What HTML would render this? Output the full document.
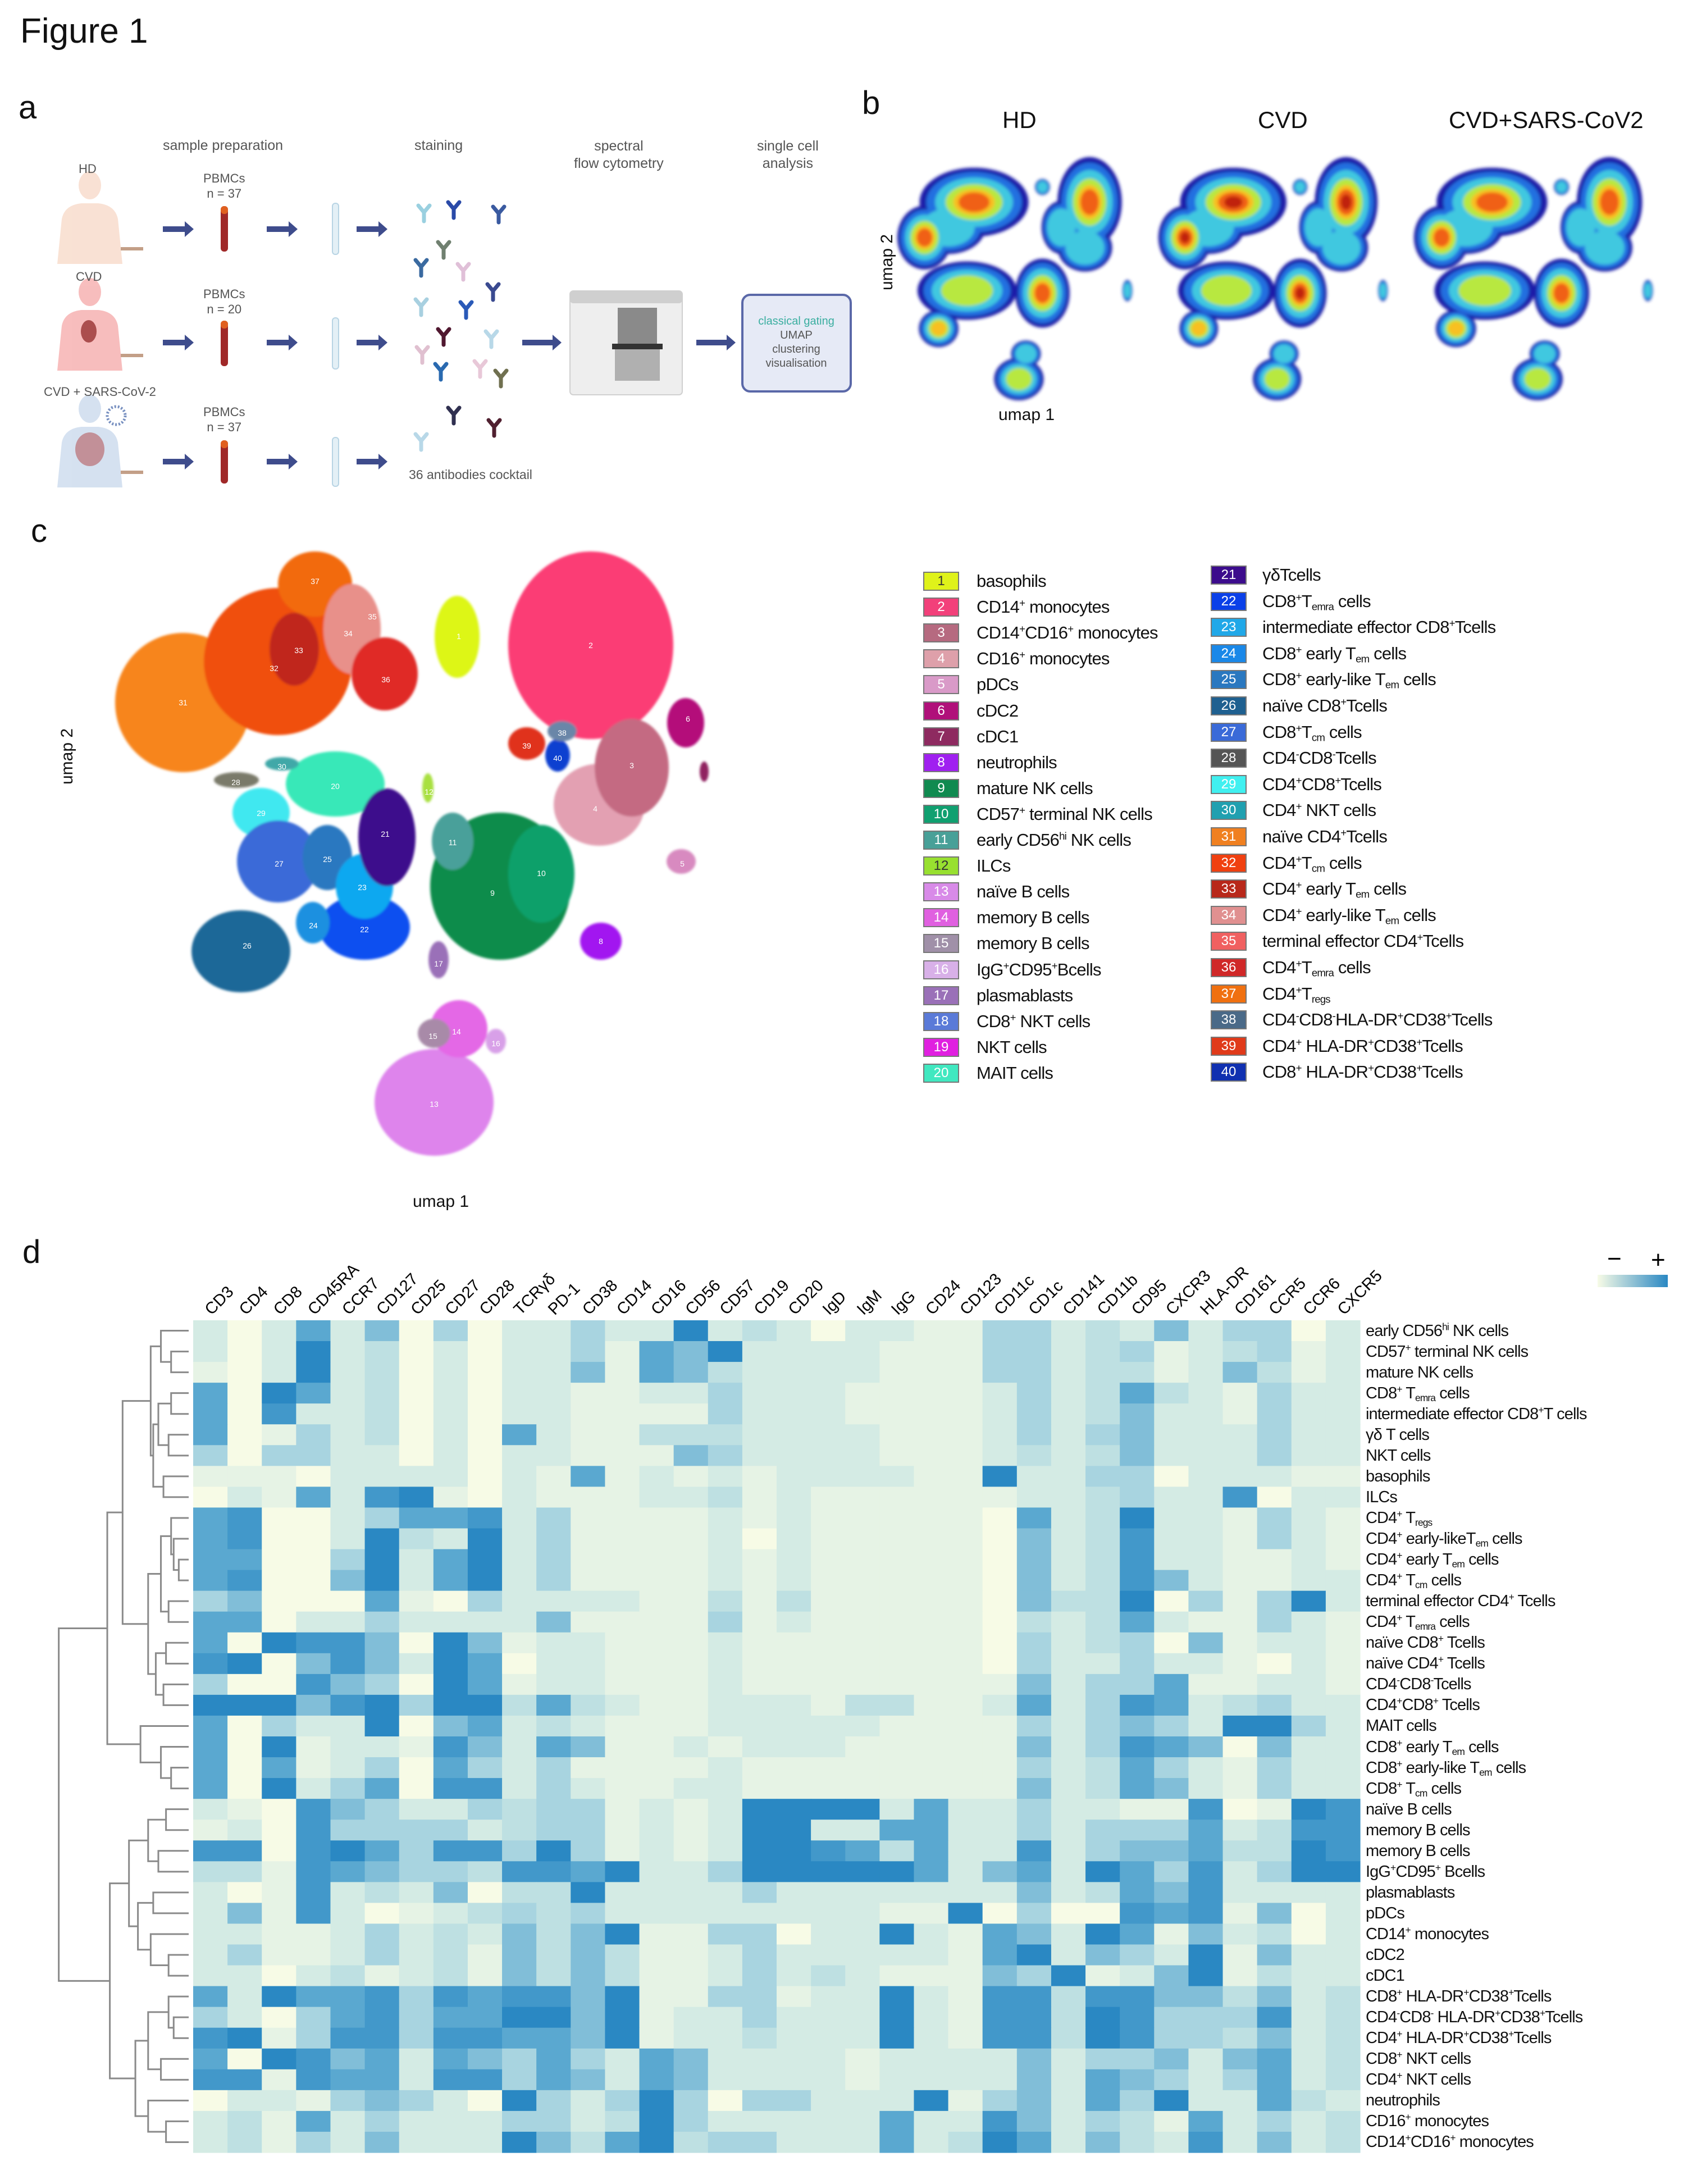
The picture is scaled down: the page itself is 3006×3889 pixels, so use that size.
<!DOCTYPE html>
<html><head><meta charset="utf-8">
<style>
html,body{margin:0;padding:0;background:#fff;}
#root{position:relative;width:3006px;height:3889px;overflow:hidden;font-family:"Liberation Sans",sans-serif;color:#111;}
.t{position:absolute;white-space:nowrap;z-index:2;}
.lg{position:absolute;font-size:31px;letter-spacing:-0.8px;white-space:nowrap;line-height:36px;z-index:2;}
.sw{position:absolute;width:64px;height:34px;box-sizing:border-box;border:2px solid #777;color:#fff;font-size:24px;text-align:center;line-height:30px;z-index:2;}
.rl{position:absolute;left:2432px;font-size:29px;letter-spacing:-0.9px;white-space:nowrap;line-height:34px;z-index:2;}
sup,sub{font-size:60%;line-height:0;}
sub{vertical-align:-0.3em;} sup{vertical-align:0.6em;}
.pa{position:absolute;font-size:25px;color:#555;text-align:center;white-space:nowrap;z-index:2;}
</style></head>
<body>
<div id="root">
<div class="t" style="left:36px;top:20px;font-size:62px;">Figure 1</div>
<div class="t" style="left:33px;top:158px;font-size:58px;">a</div>
<div class="t" style="left:1535px;top:150px;font-size:58px;">b</div>
<div class="t" style="left:55px;top:912px;font-size:58px;">c</div>
<div class="t" style="left:40px;top:2196px;font-size:58px;">d</div>

<div class="pa" style="left:290px;top:245px;">sample preparation</div>
<div class="pa" style="left:738px;top:245px;">staining</div>
<div class="pa" style="left:1022px;top:245px;line-height:31px;">spectral<br>flow cytometry</div>
<div class="pa" style="left:1348px;top:245px;line-height:31px;">single cell<br>analysis</div>
<div class="pa" style="left:140px;top:288px;font-size:22px;">HD</div>
<div class="pa" style="left:135px;top:480px;font-size:22px;">CVD</div>
<div class="pa" style="left:78px;top:685px;font-size:22px;">CVD + SARS-CoV-2</div>
<div class="pa" style="left:362px;top:304px;font-size:22px;line-height:27px;">PBMCs<br>n = 37</div>
<div class="pa" style="left:362px;top:510px;font-size:22px;line-height:27px;">PBMCs<br>n = 20</div>
<div class="pa" style="left:362px;top:720px;font-size:22px;line-height:27px;">PBMCs<br>n = 37</div>
<div class="pa" style="left:728px;top:832px;font-size:23px;">36 antibodies cocktail</div>
<div class="pa" style="left:1333px;top:560px;font-size:20px;line-height:25px;width:170px;"><span style="color:#3aaea0">classical gating</span><br>UMAP<br>clustering<br>visualisation</div>

<div class="t" style="left:1785px;top:190px;font-size:42px;">HD</div>
<div class="t" style="left:2240px;top:190px;font-size:42px;">CVD</div>
<div class="t" style="left:2580px;top:190px;font-size:42px;">CVD+SARS-CoV2</div>
<div class="t" style="left:1778px;top:722px;font-size:30px;">umap 1</div>
<div class="t" style="left:1530px;top:450px;font-size:30px;transform:rotate(-90deg);">umap 2</div>
<div class="t" style="left:735px;top:2123px;font-size:30px;">umap 1</div>
<div class="t" style="left:70px;top:1330px;font-size:30px;transform:rotate(-90deg);">umap 2</div>

<svg id="svg" width="3006" height="3889" style="position:absolute;left:0;top:0;z-index:1;">
<defs>
<filter id="bl" x="-30%" y="-30%" width="160%" height="160%"><feGaussianBlur stdDeviation="2"/></filter>
<filter id="bl2" x="-30%" y="-30%" width="160%" height="160%"><feGaussianBlur stdDeviation="3"/></filter>
<linearGradient id="cbar" x1="0" x2="1"><stop offset="0" stop-color="#f7fbe6"/><stop offset="1" stop-color="#2a88c3"/></linearGradient>
</defs>
<g id="panelA"></g>
<g id="panelB"></g>
<g id="panelC"></g>
<g id="dendro"></g>
<g id="heat"></g>
<g id="collabels"></g>
<g>
<text x="2862" y="2256" font-size="44" font-family="Liberation Sans">−</text>
<text x="2940" y="2258" font-size="44" font-family="Liberation Sans">+</text>
<rect x="2845" y="2270" width="125" height="22" fill="url(#cbar)"/>
</g>
</svg>
<div id="legend"></div>
<div id="rowlabels"></div>
</div>

<script>
const markers = ["CD3","CD4","CD8","CD45RA","CCR7","CD127","CD25","CD27","CD28","TCRγδ","PD-1","CD38","CD14","CD16","CD56","CD57","CD19","CD20","IgD","IgM","IgG","CD24","CD123","CD11c","CD1c","CD141","CD11b","CD95","CXCR3","HLA-DR","CD161","CCR5","CCR6","CXCR5"];
const cellTypes = ["early CD56<sup>hi</sup> NK cells","CD57<sup>+</sup> terminal NK cells","mature NK cells","CD8<sup>+</sup> T<sub>emra</sub> cells","intermediate effector CD8<sup>+</sup>T cells","γδ T cells","NKT cells","basophils","ILCs","CD4<sup>+</sup> T<sub>regs</sub>","CD4<sup>+</sup> early-likeT<sub>em</sub> cells","CD4<sup>+</sup> early T<sub>em</sub> cells","CD4<sup>+</sup> T<sub>cm</sub> cells","terminal effector CD4<sup>+</sup> Tcells","CD4<sup>+</sup> T<sub>emra</sub> cells","naïve CD8<sup>+</sup> Tcells","naïve CD4<sup>+</sup> Tcells","CD4<sup>-</sup>CD8<sup>-</sup>Tcells","CD4<sup>+</sup>CD8<sup>+</sup> Tcells","MAIT cells","CD8<sup>+</sup> early T<sub>em</sub> cells","CD8<sup>+</sup> early-like T<sub>em</sub> cells","CD8<sup>+</sup> T<sub>cm</sub> cells","naïve B cells","memory B cells","memory B cells","IgG<sup>+</sup>CD95<sup>+</sup> Bcells","plasmablasts","pDCs","CD14<sup>+</sup> monocytes","cDC2","cDC1","CD8<sup>+</sup> HLA-DR<sup>+</sup>CD38<sup>+</sup>Tcells","CD4<sup>-</sup>CD8<sup>-</sup> HLA-DR<sup>+</sup>CD38<sup>+</sup>Tcells","CD4<sup>+</sup> HLA-DR<sup>+</sup>CD38<sup>+</sup>Tcells","CD8<sup>+</sup> NKT cells","CD4<sup>+</sup> NKT cells","neutrophils","CD16<sup>+</sup> monocytes","CD14<sup>+</sup>CD16<sup>+</sup> monocytes"];
const expr0 = [1,0,1,3,1,2.5,0,2,0,1,1,2,1,1,4,1,1.5,1,0,1,1,0.5,0.5,2,2,1,1.5,1,2.5,1,2,2,0,1];
const expr1 = [1,0,1,4,1,1.5,0,1,0,1,1,2,0.5,3,2.5,4,1,1,1,1,0.5,0.5,0.5,2,2,1,1.5,2,0.5,1,1.5,2,0.5,1];
const expr2 = [0.5,0,1,4,1,1.5,0,1,0,1,1,2.5,0.5,3,2.5,1.5,1,1,1,1,0.5,0.5,0.5,2,2,1,1.5,1.5,0.5,1,2.5,1.5,0.5,1];
const expr3 = [3,0,4,3,1,1.5,0,1,0,1,1,0.5,0.5,1,1,2,1,1,1,0.5,0.5,0.5,0.5,1,2,1,1.5,3,1.5,1,0.5,2,1,1];
const expr4 = [3,0,3.5,1,1,1.5,0,1,0,1,1,0.5,0.5,0.5,0.5,2,1,1,1,0.5,0.5,0.5,0.5,1,2,1,1.5,2.5,1,1,0.5,2,1,1];
const expr5 = [3,0,0.5,2,1,1.5,0,1,0,3,1,0.5,0.5,1.5,1.5,1.5,1,1,1,1,0.5,0.5,0.5,1,2,1,2,2.5,1,1,1,2,1,1];
const expr6 = [2,0,2,2,1,1,0,1,0,1,1,0.5,0.5,0.5,2.5,2,1,1,1,1,0.5,0.5,0.5,1,1.5,1,1.5,2.5,1,1,1,2,1,1];
const expr7 = [0.5,0.5,0.5,0,1,1,1,1,0,1,0.5,3,0.5,1,0.5,1,0.5,1,1,1,1,0.5,0.5,4,1,1,2,2,0,1,1,1,0.5,0.5];
const expr8 = [0,1,0.5,3,1,3.5,4,0.5,0,1,0.5,0.5,0.5,1,1,1.5,0.5,1,0.5,0.5,0.5,0.5,0.5,0.5,1,1,1.5,2,1,1,3.5,0,1,1];
const expr9 = [3,3.5,0,0,1,2,3,3,3.5,1,2,0.5,0.5,0.5,0.5,1,0.5,1,0.5,0.5,0.5,0.5,0.5,0,3,1,1.5,4,1,1,0.5,2,1,0.5];
const expr10 = [3,3.5,0,0,1,4,1.5,1,4,1,2,0.5,0.5,0.5,0.5,1,0,1,0.5,0.5,0.5,0.5,0.5,0,2.5,1,1.5,3.5,1,1,0.5,2,1,0.5];
const expr11 = [3,3,0,0,2,4,1,3,4,1,2,0.5,0.5,0.5,0.5,1,0.5,1,0.5,0.5,0.5,0.5,0.5,0,2.5,1,1.5,3.5,1,1,0.5,0.5,1,0.5];
const expr12 = [3,3.5,0,0,2.5,4,1,3,4,1,2,0.5,0.5,0.5,0.5,1,0.5,1,0.5,0.5,0.5,0.5,0.5,0,2.5,1,1.5,3.5,2.5,1,0.5,0.5,1,1];
const expr13 = [2,2.5,0,0,0,3,0.5,0,2,1,1,1,1,0.5,0.5,1.5,0.5,1.5,0.5,0.5,0.5,0.5,0.5,0,2.5,1.5,1.5,4,0,2,0.5,2,4,1];
const expr14 = [3,3,0,1,1,2,1,1,1,1,2.5,0.5,0.5,0.5,0.5,2,0.5,1,0.5,0.5,0.5,0.5,0.5,0,1.5,1,1.5,3,1,0.5,0.5,2,1,0.5];
const expr15 = [3,0,4,3.5,3.5,2.5,0,4,2.5,0.5,1,1,0.5,0.5,0.5,1,0.5,0.5,0.5,0.5,0.5,0.5,0.5,0,2,1,1.5,2,0,2.5,0.5,1,1,0.5];
const expr16 = [3.5,4,0,2.5,3.5,2.5,1,4,3,0,1,1,0.5,0.5,0.5,1,0.5,0.5,0.5,0.5,0.5,0.5,0.5,0,2,1,1,2,1,1,0.5,0,1,0.5];
const expr17 = [2,0,0,3.5,2.5,2,0,4,3,0.5,1,1,0.5,0.5,0.5,1,0.5,0.5,0.5,0.5,0.5,0.5,0.5,0.5,2.5,1,2,2,3,0.5,0.5,1,1,0.5];
const expr18 = [4,4,4,2.5,3.5,4,2,4,4,1.5,3,1.5,1,0.5,0.5,1,1,1,0.5,1.5,1.5,0.5,0.5,1,3,1,2,3.5,3,1,1.5,2,1,1];
const expr19 = [3,0,2,1,1,4,0,2.5,3,1,1.5,1,0.5,0.5,0.5,1,1,1,1,1,0.5,0.5,0.5,0.5,2,1,2,2.5,2,1,4,4,2,1];
const expr20 = [3,0,4,0.5,1,1,0.5,3.5,2.5,1,3,2.5,0.5,0.5,1,0.5,1,1,1,0.5,0.5,0.5,0.5,0.5,2.5,1,2,3.5,3,2.5,0,2.5,1,1];
const expr21 = [3,0,3,0.5,1,2,0,3,2,1,2,0.5,0.5,0.5,0.5,1,0.5,0.5,0.5,0.5,0.5,0.5,0.5,0.5,2,1,1.5,3,2,1,0.5,2,1,1];
const expr22 = [3,0,4,1,2,3,0,3.5,3.5,1,2,1,0.5,0.5,1,1,0.5,0.5,0.5,0.5,0.5,0.5,0.5,0.5,2.5,1,1.5,3,2.5,1,0.5,2,1,1];
const expr23 = [1,0.5,0,3.5,2.5,2,1,1,2,1.5,2,2,0.5,1,0.5,1,4,4,4,4,1,3,1,1,2,1,1,0.5,0.5,3.5,0,0.5,4,3.5];
const expr24 = [0.5,1,0,3.5,2,2,2,2,1,1.5,2,2,0.5,1,0.5,1,4,4,1,1,3,3,1,1,2,1,2,2,2,3,1,1.5,3.5,3.5];
const expr25 = [3.5,3.5,0,3.5,4,3,2,3.5,3.5,2,4,2,0.5,1,0.5,1,4,4,3.5,3,1.5,3,1,1,3.5,1,2,2.5,2.5,3,1.5,1.5,4,3.5];
const expr26 = [1.5,1.5,0.5,3.5,3,2.5,2,2,1.5,3.5,3.5,3,4,1,1,2,4,4,4,4,4,3,1,2.5,3,1,4,3,2,3.5,1,2,4,4];
const expr27 = [1,0,0.5,3.5,1,1.5,1,2.5,0,1.5,1.5,4,1,1,1,1,2,1,1,1,1,1,1,1,2.5,1,1.5,3,2.5,3.5,1,1,1,1];
const expr28 = [1,2.5,0.5,3.5,1,0,0.5,1,1.5,2,1.5,2,1,1,1,1,1,1,1,1,0.5,0.5,4,0,2,0,0,3.5,3,3.5,0.5,2.5,0,1];
const expr29 = [1,1,0.5,0.5,1,2,1,1.5,1,2.5,1.5,2.5,4,0.5,0.5,2,2,0,1,1,4,1,0.5,3,2.5,1,4,3,0.5,2.5,1,1.5,0,1];
const expr30 = [1,2,0.5,0.5,1,2,1,1.5,0.5,2.5,1.5,2.5,1.5,0.5,0.5,1,2,1,1,1,1,1,0.5,3,4,1,2.5,2,1,4,0.5,2.5,1,1];
const expr31 = [1,1,0,1,1.5,0.5,1,1.5,0.5,2.5,1.5,2.5,1.5,0.5,0.5,1,2,1,1.5,1,0.5,0.5,0.5,2.5,2,4,0.5,1,2.5,4,0.5,1.5,1,1];
const expr32 = [3,1,4,3,3,3.5,2,3.5,3,3.5,3.5,2.5,4,0.5,0.5,2,2,0.5,1,1,4,1,0.5,3.5,3.5,1.5,3.5,3.5,2.5,2.5,1.5,2.5,1,1.5];
const expr33 = [2,1,0,2,3,3.5,2,3,3,4,4,2.5,4,0.5,1,1,2,1,1,1,4,1,0.5,3.5,3.5,1.5,4,3.5,2,2,2,3.5,1,1.5];
const expr34 = [3.5,4,0.5,2,3.5,3.5,2,3.5,3.5,3,3,2.5,4,0.5,1,1,1.5,1,1,1,4,1,0.5,3.5,3.5,1.5,4,3.5,2,2,1.5,2.5,1,1.5];
const expr35 = [3,0,4,3.5,2.5,3,1,3,2.5,2,3,2,1,3,2.5,1,1,1,1,0.5,1,1,1,1,2.5,1,2,2,2.5,1,2.5,3,1,1.5];
const expr36 = [3.5,3.5,0.5,3.5,3,3,1,3.5,3.5,2,3,2.5,1,3,2.5,1,1,1,1,0.5,1,1,1,1,2.5,1,3,2.5,2,1,2,3,1,1.5];
const expr37 = [0,1,1,0.5,2,2.5,2,1,0,4,2,1,2,4,2,0,2,2,1,1,1,4,0.5,2,2.5,1,3,2,4,1,1,3,1.5,1];
const expr38 = [1,1.5,0.5,3,1,2,1,1,1,2,2,1,1.5,4,2,1,1,1,1,1,3,1,1,3.5,2.5,1,2,1.5,0.5,3,1,2,1,1.5];
const expr39 = [1,1.5,0.5,2,1,2.5,1,1,1,4,2.5,1.5,3,4,1.5,2,2,1,1,1,3,1,1.5,4,3,1,2.5,1.5,1,3.5,1,2.5,1,1.5];
const values = [expr0,expr1,expr2,expr3,expr4,expr5,expr6,expr7,expr8,expr9,expr10,expr11,expr12,expr13,expr14,expr15,expr16,expr17,expr18,expr19,expr20,expr21,expr22,expr23,expr24,expr25,expr26,expr27,expr28,expr29,expr30,expr31,expr32,expr33,expr34,expr35,expr36,expr37,expr38,expr39];
const dendroTree = [1,
 [0.62,
   [0.5,[0.28,[0.2,0,[0.12,1,2]],[0.26,[0.22,[0.12,3,4],[0.14,5,6]],[0.18,7,8]]],
        [0.3,[0.2,[0.12,9,[0.1,10,[0.06,11,12]]],[0.14,13,14]],[0.24,[0.16,15,16],[0.18,17,18]]]],
   [0.36,19,[0.2,20,[0.12,21,22]]]],
 [0.6,
   [0.45,[0.3,[0.16,23,24],[0.22,25,26]],[0.38,[0.26,27,28],[0.28,29,[0.14,30,31]]]],
   [0.4,[0.3,[0.14,32,[0.1,33,34]],[0.2,35,36]],[0.3,37,[0.16,38,39]]]]];
const legendNames = ["basophils","CD14<sup>+</sup> monocytes","CD14<sup>+</sup>CD16<sup>+</sup> monocytes","CD16<sup>+</sup> monocytes","pDCs","cDC2","cDC1","neutrophils","mature NK cells","CD57<sup>+</sup> terminal NK cells","early CD56<sup>hi</sup> NK cells","ILCs","naïve B cells","memory B cells","memory B cells","IgG<sup>+</sup>CD95<sup>+</sup>Bcells","plasmablasts","CD8<sup>+</sup> NKT cells","NKT cells","MAIT cells","γδTcells","CD8<sup>+</sup>T<sub>emra</sub> cells","intermediate effector CD8<sup>+</sup>Tcells","CD8<sup>+</sup> early T<sub>em</sub> cells","CD8<sup>+</sup> early-like T<sub>em</sub> cells","naïve CD8<sup>+</sup>Tcells","CD8<sup>+</sup>T<sub>cm</sub> cells","CD4<sup>-</sup>CD8<sup>-</sup>Tcells","CD4<sup>+</sup>CD8<sup>+</sup>Tcells","CD4<sup>+</sup> NKT cells","naïve CD4<sup>+</sup>Tcells","CD4<sup>+</sup>T<sub>cm</sub> cells","CD4<sup>+</sup> early T<sub>em</sub> cells","CD4<sup>+</sup> early-like T<sub>em</sub> cells","terminal effector CD4<sup>+</sup>Tcells","CD4<sup>+</sup>T<sub>emra</sub> cells","CD4<sup>+</sup>T<sub>regs</sub>","CD4<sup>-</sup>CD8<sup>-</sup>HLA-DR<sup>+</sup>CD38<sup>+</sup>Tcells","CD4<sup>+</sup> HLA-DR<sup>+</sup>CD38<sup>+</sup>Tcells","CD8<sup>+</sup> HLA-DR<sup>+</sup>CD38<sup>+</sup>Tcells"];
const legendColors = ["#dff21a","#f2407a","#b66a80","#dea0aa","#d99ac8","#b0107a","#8e2a60","#a020f0","#108a50","#10a070","#48a098","#98e030","#d88ae8","#e060e0","#a090a8","#d8b0e8","#9a70b8","#5a7ad8","#e020e0","#40e8c0","#3c0c8c","#0a40e8","#20a8e8","#1a88e8","#2a78c0","#1f6090","#3a6ad8","#555","#40f0f0","#20a0b0","#f08020","#f04010","#b8281a","#e09090","#f06060","#d02828","#f07010","#4a6a88","#e03a1a","#1030b0"];

const NS="http://www.w3.org/2000/svg";
function el(tag,attrs,parent){const e=document.createElementNS(NS,tag);for(const k in attrs)e.setAttribute(k,attrs[k]);parent.appendChild(e);return e;}

const HX0=344,HX1=2422,HY0=2351,HY1=3833;
const cw=(HX1-HX0)/markers.length, rh=(HY1-HY0)/cellTypes.length;
function xCol(j){return HX0+j*cw;}
function yRow(i){return HY0+i*rh;}
const stops=[[247,251,230],[212,235,228],[168,212,224],[90,168,208],[42,136,195]];
function colorFor(v){const t=Math.max(0,Math.min(4,v));const i=Math.min(3,Math.floor(t));const f=t-i;const a=stops[i],b=stops[i+1];return "rgb("+a.map((c,k)=>Math.round(c+(b[k]-c)*f)).join(",")+")";}
const heat=document.getElementById('heat');
values.forEach((row,i)=>{row.forEach((v,j)=>{
  const r=el('rect',{x:xCol(j),y:yRow(i),width:cw+0.6,height:rh+0.6,fill:colorFor(v)},heat);
  
  
});});
const cl=document.getElementById('collabels');
markers.forEach((m,j)=>{
  const cx=xCol(j)+cw/2+2, cy=HY0-8;
  const t=el('text',{x:cx,y:cy,transform:"rotate(-45 "+cx+" "+cy+")","font-size":29,"font-family":"Liberation Sans",fill:"#000"},cl);
  t.textContent=m;
  
  
});
const rlBox=document.getElementById('rowlabels');
cellTypes.forEach((c,i)=>{
  const d=document.createElement('div');d.className='rl';d.style.top=(yRow(i)+rh/2-17)+'px';d.innerHTML=c;
  
  
  rlBox.appendChild(d);
});
const dg=document.getElementById('dendro');
const DX0=104,DX1=336;
function dx(h){return DX1-h*(DX1-DX0)*0.98-4;}
function drawNode(n){
  if(typeof n==='number'){return {y:yRow(n)+rh/2,x:DX1};}
  const a=drawNode(n[1]),b=drawNode(n[2]);const x=dx(n[0]);
  const p=el('path',{d:"M"+a.x+" "+a.y+"H"+x+"V"+b.y+"H"+b.x,fill:"none",stroke:"#8a8a8a","stroke-width":3},dg);
  
  
  return {x:x,y:(a.y+b.y)/2};
}
drawNode(dendroTree);

const lg=document.getElementById('legend');
legendNames.forEach((n,i)=>{
  const col=i<20?0:1, r=i%20;
  const sx=col?2156:1644, ty=(col?1007:1018)+r*(col?46.6:46.1);
  const s=document.createElement('div');s.className='sw';s.style.left=sx+'px';s.style.top=ty+'px';s.style.background=legendColors[i];s.textContent=(i+1);
  if(i===0||i===11) s.style.color='#333';
  
  
  lg.appendChild(s);
  const t=document.createElement('div');t.className='lg';t.style.left=(col?2248:1739)+'px';t.style.top=(ty-1)+'px';t.innerHTML=n;
  
  
  lg.appendChild(t);
});

const pc=document.getElementById('panelC');
const gC=el('g',{filter:"url(#bl)"},pc);
const blobsC=[
 [326,1251,121,124,"#f7851e"],[495,1178,132,131,"#f0500a"],[561,1040,66,58,"#f26a10"],[627,1120,51,80,"#e8908a"],[685,1200,59,65,"#e02b25"],[524,1156,44,65,"#c0281a"],
 [814,1134,40,73,"#ddf614"],[1052,1149,147,167,"#fb3c74"],[1067,1433,81,73,"#e3a0b2"],[1125,1367,66,87,"#c46a82"],[1221,1287,33,44,"#b4117a"],[1254,1374,8,18,"#902060"],
 [938,1324,33,29,"#e0301a"],[993,1345,22,29,"#1040d0"],[1001,1302,26,18,"#6a86a8"],[1213,1534,26,22,"#d88ac0"],[1070,1676,37,33,"#a214f0"],
 [891,1578,125,131,"#0e8c4c"],[964,1556,59,87,"#0ea06a"],[806,1498,37,51,"#4aa09a"],[762,1403,10,26,"#a8e040"],
 [465,1447,51,44,"#40e8f0"],[597,1396,88,58,"#38e8b8"],[421,1389,40,14,"#7a7a6a"],[502,1360,30,12,"#40a8a8"],
 [429,1694,88,73,"#1f6898"],[495,1534,73,73,"#3a6ad8"],[583,1527,44,58,"#2a78c0"],[649,1651,81,58,"#0a50f0"],[557,1643,30,37,"#1c90e0"],[649,1578,51,58,"#10a8f0"],[689,1491,51,87,"#3c0c8c"],
 [781,1709,18,33,"#9a70b8"],[773,1963,106,95,"#de84ec"],[817,1832,51,51,"#e468e6"],[773,1840,29,26,"#a88aa8"],[883,1854,18,22,"#d8a0e8"]
];
blobsC.forEach(b=>{const e=el('ellipse',{cx:b[0],cy:b[1],rx:b[2],ry:b[3],fill:b[4]},gC);
  
  });
const numsC=[[326,1251,"31"],[561,1035,"37"],[532,1158,"33"],[488,1190,"32"],[620,1128,"34"],[663,1098,"35"],[687,1210,"36"],[817,1133,"1"],[1052,1149,"2"],[1125,1363,"3"],[1060,1440,"4"],[1215,1538,"5"],[1225,1280,"6"],[1070,1676,"8"],[877,1590,"9"],[964,1555,"10"],[806,1500,"11"],[764,1410,"12"],[773,1966,"13"],[813,1837,"14"],[771,1845,"15"],[883,1858,"16"],[781,1716,"17"],[748,1650,"18"],[597,1400,"20"],[686,1485,"21"],[649,1655,"22"],[645,1580,"23"],[558,1648,"24"],[583,1530,"25"],[440,1684,"26"],[497,1538,"27"],[420,1393,"28"],[465,1448,"29"],[502,1365,"30"],[938,1328,"39"],[993,1350,"40"],[1001,1305,"38"]];
numsC.forEach(n=>{const t=el('text',{x:n[0],y:n[1]+5,"font-size":14,"text-anchor":"middle","font-family":"Liberation Sans",fill:"#fff"},pc);t.textContent=n[2];
  
  });

const pb=document.getElementById('panelB');
const densityBlobs=[
 [0.33,0.2,0.22,0.13,1],[0.12,0.34,0.11,0.12,1],[0.22,0.3,0.15,0.1,0],[0.82,0.2,0.13,0.17,1],[0.8,0.38,0.11,0.09,0],[0.7,0.3,0.08,0.1,0],
 [0.3,0.55,0.2,0.11,0.5],[0.62,0.56,0.11,0.13,1],[0.18,0.7,0.08,0.07,0.8],[0.52,0.9,0.1,0.08,0.6],[0.55,0.8,0.06,0.05,0],[0.62,0.14,0.03,0.03,0],[0.98,0.55,0.02,0.04,0]
];
const panelsB=[[1596,270,420,450],[2061,270,410,450],[2516,270,427,450]];
panelsB.forEach((p,k)=>{
  const g=el('g',{filter:"url(#bl2)"},pb);
  
  
  const layers=[[1.05,"#1a1aa8"],[0.92,"#2070e0"],[0.75,"#40c8e0"],[0.55,"#b8e840"],[0.4,"#f8c020"],[0.3,"#f06018"],[0.18,"#c02010"]];
  layers.forEach((L,li)=>{densityBlobs.forEach(b=>{
    const hot=b[4]; const maxL=hot>=1?(k===1?6:5):hot>=0.8?4:hot>=0.5?3:2;
    if(li>maxL) return;
    el('ellipse',{cx:p[0]+b[0]*p[2],cy:p[1]+b[1]*p[3],rx:b[2]*p[2]*L[0],ry:b[3]*p[3]*L[0],fill:L[1]},g);
  });});
});

const pa=document.getElementById('panelA');
function person(x,y,col){
  const g=el('g',{opacity:0.75},pa);
  
  
  el('ellipse',{cx:x,cy:y,rx:20,ry:25,fill:col},g);
  el('path',{d:`M${x-58} ${y+140}L${x-50} ${y+60}Q${x-45} ${y+35} ${x-15} ${y+32}L${x+15} ${y+32}Q${x+45} ${y+35} ${x+50} ${y+60}L${x+58} ${y+140}Z`,fill:col},g);
  el('rect',{x:x+55,y:y+110,width:40,height:6,fill:"#b08060"},g);
}
person(160,330,"#f7d8c6");person(160,520,"#f5a8a8");person(160,728,"#c8d8ec");
el('ellipse',{cx:158,cy:590,rx:14,ry:20,fill:"#8a2020",opacity:0.7},pa);
el('ellipse',{cx:160,cy:800,rx:26,ry:30,fill:"#b04040",opacity:0.5},pa);
el('circle',{cx:207,cy:740,r:16,fill:"none",stroke:"#7890c0","stroke-width":5,"stroke-dasharray":"3 3"},pa);
[[367,448,408],[571,652,610],[784,861,822]].forEach(r=>{
  const t=el('rect',{x:393,y:r[0],width:13,height:r[1]-r[0],rx:6,fill:"#a02828"},pa);
  
  
  el('rect',{x:393,y:r[0],width:13,height:14,rx:6,fill:"#e06020"},pa);
  el('rect',{x:592,y:r[0]-5,width:11,height:r[1]-r[0]+10,rx:5,fill:"#e4f0f6",stroke:"#b8d4e4","stroke-width":2},pa);
  [[290,345],[475,530],[635,690]].forEach(a=>{
    el('path',{d:`M${a[0]} ${r[2]-5}H${a[1]-16}V${r[2]-14}L${a[1]} ${r[2]}L${a[1]-16} ${r[2]+14}V${r[2]+5}H${a[0]}Z`,fill:"#3e4c8c"},pa);
  });
});
[[930,1000],[1240,1310]].forEach(a=>{const y=610;el('path',{d:`M${a[0]} ${y-5}H${a[1]-16}V${y-14}L${a[1]} ${y}L${a[1]-16} ${y+14}V${y+5}H${a[0]}Z`,fill:"#3e4c8c"},pa);});
const abs=[[755,378,"#9ad0e0"],[808,372,"#2a4aa8"],[888,380,"#3a5aa0"],[790,443,"#708070"],[750,475,"#3a6aa0"],[825,482,"#e0c0d8"],[878,518,"#3a4a90"],[750,545,"#a8d0e0"],[830,550,"#2a5ab8"],[790,598,"#501830"],[875,602,"#b8d8e8"],[752,630,"#e0c0d0"],[785,660,"#2a6ab0"],[855,655,"#e8c8d8"],[892,672,"#707050"],[808,738,"#303050"],[880,760,"#502030"],[750,785,"#b8d8e8"]];
abs.forEach(a=>{const g=el('g',{stroke:a[2],"stroke-width":7,"stroke-linecap":"round",fill:"none"},pa);
  
  
  el('path',{d:`M${a[0]} ${a[1]+16}V${a[1]}L${a[0]-10} ${a[1]-12}M${a[0]} ${a[1]}L${a[0]+10} ${a[1]-12}`},g);});
const ins=el('g',{},pa);


el('rect',{x:1015,y:518,width:200,height:185,rx:6,fill:"#eeeeee",stroke:"#d0d0d0","stroke-width":2},ins);
el('rect',{x:1015,y:518,width:200,height:22,rx:6,fill:"#cfcfcf"},ins);
el('rect',{x:1100,y:548,width:70,height:70,fill:"#8a8a8a"},ins);
el('rect',{x:1095,y:618,width:80,height:60,fill:"#b0b0b0"},ins);
el('rect',{x:1090,y:612,width:90,height:10,fill:"#333"},ins);
const ab=el('rect',{x:1322,y:525,width:193,height:172,rx:14,fill:"#e6eaf6",stroke:"#5a68a8","stroke-width":4},pa);


</script>
</body></html>
